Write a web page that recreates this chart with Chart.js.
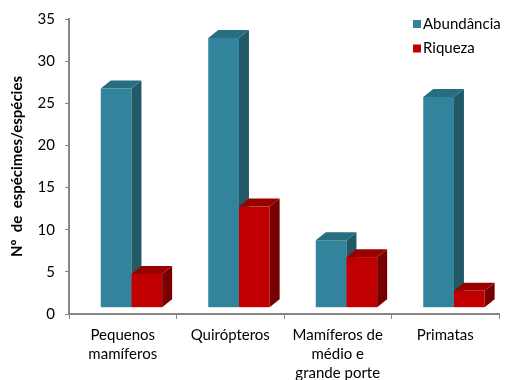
<!DOCTYPE html>
<html>
<head>
<meta charset="utf-8">
<script src="https://cdn.jsdelivr.net/npm/chart.js@4"></script>
<style>
  html, body { margin: 0; padding: 0; background: #fff; }
  #wrap { width: 505px; height: 380px; }
</style>
</head>
<body>
<div id="wrap"><canvas id="grafico"></canvas></div>
<script>
var categorias = [['Pequenos', 'mamíferos'], 'Quirópteros', ['Mamíferos de', 'médio e', 'grande porte'], 'Primatas'];
var abundancia = [26, 32, 8, 25];
var riqueza = [4, 12, 6, 2];
var series = ['Abundância', 'Riqueza'];

// front, top, side colours per series
var cores = [
  ['#31849B', '#286D80', '#215967'],
  ['#C00000', '#990000', '#780000']
];
var SX = 8.7, SY = -6.3;   // shift of the front faces
var DX = 10, DY = -8;      // depth of the bars

var fonte = 'Lato, "Open Sans", sans-serif';
Chart.defaults.font.family = fonte;
Chart.defaults.color = '#000';

var barras3d = {
  id: 'barras3d',
  afterDatasetsDraw(chart) {
    var ctx = chart.ctx;
    ctx.save();
    chart.data.datasets.forEach(function (ds, i) {
      var meta = chart.getDatasetMeta(i);
      meta.data.forEach(function (bar) {
        var p = bar.getProps(['x', 'y', 'base', 'width'], true);
        var l = p.x - p.width / 2 + SX, r = p.x + p.width / 2 + SX;
        var t = p.y + SY, b = p.base + SY;
        ctx.fillStyle = cores[i][0];
        ctx.fillRect(l, t, r - l, b - t);
        ctx.fillStyle = cores[i][2];
        ctx.beginPath();
        ctx.moveTo(r, t); ctx.lineTo(r + DX, t + DY); ctx.lineTo(r + DX, b + DY); ctx.lineTo(r, b);
        ctx.closePath(); ctx.fill();
        ctx.fillStyle = cores[i][1];
        ctx.beginPath();
        ctx.moveTo(l, t); ctx.lineTo(l + DX, t + DY); ctx.lineTo(r + DX, t + DY); ctx.lineTo(r, t);
        ctx.closePath(); ctx.fill();
      });
    });
    // legend
    ctx.font = '15px ' + fonte;
    ctx.textBaseline = 'middle';
    chart.data.datasets.forEach(function (ds, i) {
      var y = 24 + i * 24.5;
      ctx.fillStyle = cores[i][0];
      ctx.fillRect(413, y - 4, 8, 8);
      ctx.fillStyle = '#000';
      ctx.fillText(ds.label, 423, y);
    });
    ctx.restore();
  }
};

new Chart(document.getElementById('grafico'), {
  type: 'bar',
  data: {
    labels: categorias,
    datasets: [
      { label: series[0], data: abundancia, backgroundColor: 'rgba(0,0,0,0)' },
      { label: series[1], data: riqueza, backgroundColor: 'rgba(0,0,0,0)' }
    ]
  },
  options: {
    responsive: true,
    maintainAspectRatio: false,
    animation: false,
    categoryPercentage: 0.571,
    barPercentage: 1,
    layout: { padding: { top: 13, right: 6, left: 0, bottom: 0 } },
    plugins: { legend: { display: false }, tooltip: { enabled: false } },
    scales: {
      x: {
        grid: { drawOnChartArea: false, color: '#868686', tickLength: 5, offset: true },
        border: { color: '#868686', width: 2 },
        ticks: { font: { size: 15, lineHeight: 1.27 }, padding: 7, maxRotation: 0, autoSkip: false },
        afterFit: function (s) { s.height = 66; }
      },
      y: {
        min: 0, max: 35,
        grid: { drawOnChartArea: false, color: '#868686', tickLength: 4 },
        border: { color: '#868686', width: 2 },
        ticks: { stepSize: 5, font: { size: 15 }, padding: 10 },
        title: {
          display: true,
          text: 'Nº  de  espécimes/espécies',
          font: { size: 15, weight: 'bold' },
          padding: { top: 8, bottom: 0 }
        },
        afterFit: function (s) { s.width = 69; }
      }
    }
  },
  plugins: [barras3d]
});
</script>
</body>
</html>
